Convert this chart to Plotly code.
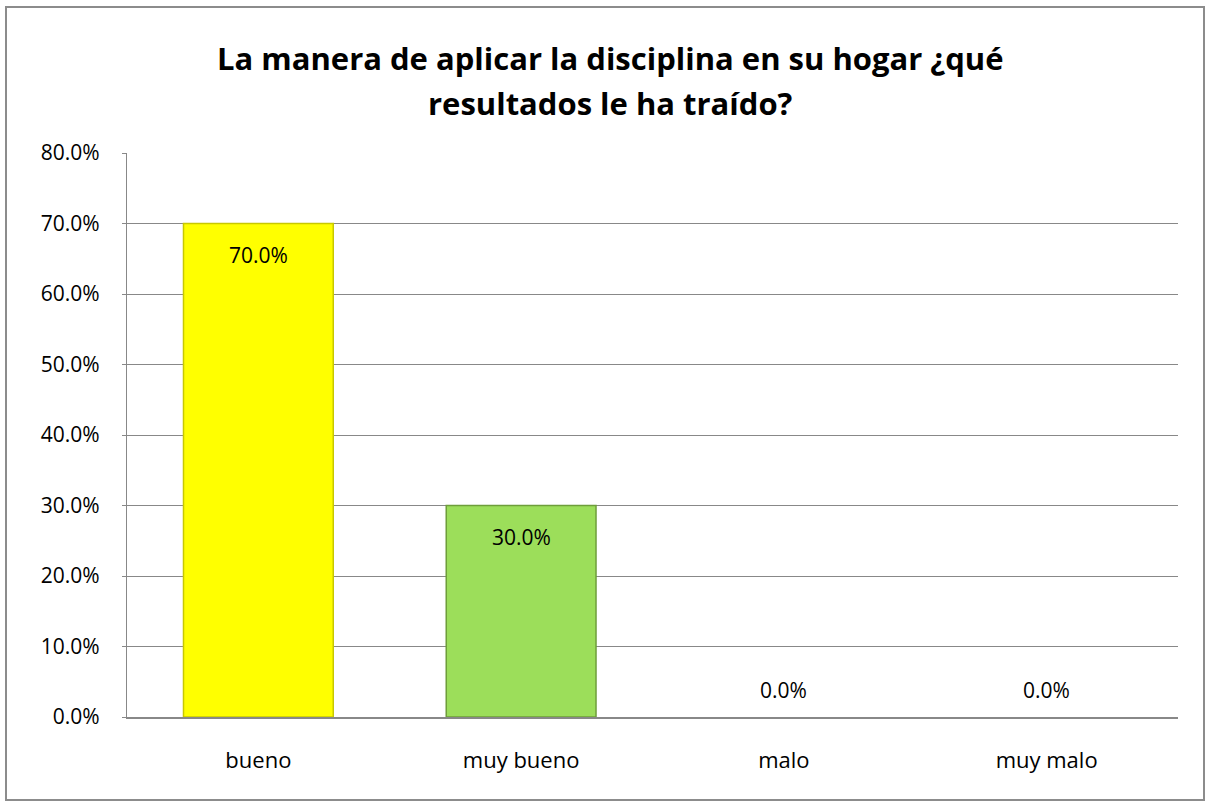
import plotly.graph_objects as go

categories = ["bueno", "muy bueno", "malo", "muy malo"]
values = [0.70, 0.30, 0.0, 0.0]
labels = ["70.0%", "30.0%", "0.0%", "0.0%"]
title_lines = ["La manera de aplicar la disciplina en su hogar ¿qué", "resultados le ha traído?"]
bar_colors = ["#FFFF00", "#9CDE5A", "#9CDE5A", "#9CDE5A"]
line_colors = ["#C8C800", "#6E9E3A", "#6E9E3A", "#6E9E3A"]

W, H = 1206, 802
L, R, T, B = 127, 28, 153, 85
pw, ph = W - L - R, H - T - B

fig = go.Figure()
fig.add_trace(go.Bar(
    x=categories, y=values,
    marker=dict(color=bar_colors,
                line=dict(color=line_colors, width=[1.5 if v > 0 else 0 for v in values])),
    width=0.57, hoverinfo="x+y",
))

for c, v, t in zip(categories, values, labels):
    inside = v > 0
    fig.add_annotation(
        x=c, y=v, text=t, showarrow=False,
        xref="x", yref="y",
        yanchor="top" if inside else "bottom",
        yshift=-15 if inside else 11,
        font=dict(family="Open Sans", size=21, color="#000000"),
    )

for i, line in enumerate(title_lines):
    fig.add_annotation(
        x=(610 - L) / pw, y=(H - B - (58 + 45 * i)) / ph,
        xref="paper", yref="paper", xanchor="center", yanchor="middle",
        text="<b>" + line + "</b>", showarrow=False,
        font=dict(family="Open Sans", size=31, color="#000000"),
    )

fig.update_layout(
    width=W, height=H,
    margin=dict(l=L, r=R, t=T, b=B, pad=0),
    paper_bgcolor="white", plot_bgcolor="white",
    showlegend=False,
    font=dict(family="Open Sans", size=21, color="#000000"),
)
fig.update_yaxes(
    range=[0, 0.8], dtick=0.1, tickformat=".1%",
    showgrid=True, gridcolor="#888888", gridwidth=1.2,
    showline=True, linecolor="#888888", linewidth=1.2,
    zeroline=False, ticks="outside", ticklen=4, tickcolor="#888888",
    ticklabelstandoff=18,
    tickfont=dict(family="Open Sans", size=21, color="#000000"),
)
fig.update_xaxes(
    showline=True, linecolor="#888888", linewidth=1.5,
    showgrid=False, ticks="", ticklabelstandoff=23,
    tickfont=dict(family="Open Sans", size=22, color="#000000"),
)
fig.add_shape(
    type="rect", xref="paper", yref="paper",
    x0=(6 - L) / pw, x1=(1204 - L) / pw,
    y0=(H - B - 800) / ph, y1=(H - B - 7) / ph,
    line=dict(color="#8C8C8C", width=2), fillcolor="rgba(0,0,0,0)",
)
fig.write_html("out.html", config={"displayModeBar": False},
               post_script="document.body.style.margin='0';")
